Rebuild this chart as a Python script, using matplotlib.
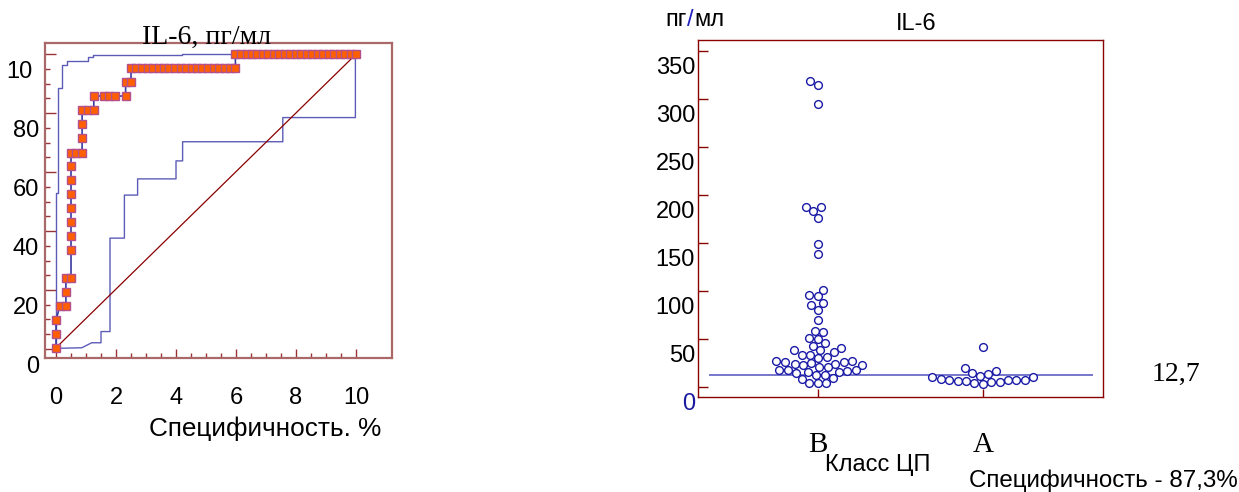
import numpy as np
import matplotlib
matplotlib.use("Agg")
import matplotlib.pyplot as plt
from matplotlib.transforms import ScaledTranslation, blended_transform_factory

# ROC curve for IL-6 (specificity axis, sensitivity axis)
roc_x = [0, 0, 0, 0.13, 0.33, 0.33, 0.33, 0.5, 0.5, 0.5, 0.5, 0.5, 0.5, 0.5, 0.5, 0.5,
         0.67, 0.87, 0.87, 0.87, 0.87, 1.07, 1.26, 1.26, 1.6, 1.77, 1.96, 2.32, 2.32, 2.5,
         2.50, 2.68, 2.87, 3.05, 3.23, 3.42, 3.60, 3.78, 3.97, 4.15, 4.33, 4.52, 4.70, 4.88,
         5.07, 5.25, 5.43, 5.62, 5.80, 5.98,
         5.98, 6.16, 6.35, 6.53, 6.71, 6.89, 7.08, 7.26, 7.44, 7.63, 7.81, 7.99, 8.17, 8.36,
         8.54, 8.72, 8.91, 9.09, 9.27, 9.45, 9.64, 9.82, 10.0]
roc_y = [5.4, 10.2, 14.8, 19.6, 19.6, 24.4, 29.2, 29.2, 38.5, 43.3, 48.1, 52.7, 57.6, 62.3, 67.1, 71.6,
         71.6, 71.6, 76.5, 81.2, 86.0, 86.0, 86.0, 90.8, 90.8, 90.8, 90.8, 90.8, 95.6, 95.6,
         100.2, 100.2, 100.2, 100.2, 100.2, 100.2, 100.2, 100.2, 100.2, 100.2, 100.2, 100.2, 100.2, 100.2,
         100.2, 100.2, 100.2, 100.2, 100.2, 100.2,
         105, 105, 105, 105, 105, 105, 105, 105, 105, 105, 105, 105, 105, 105,
         105, 105, 105, 105, 105, 105, 105, 105, 105]

# confidence bounds
upper_x = [0, 0, 0.05, 0.05, 0.21, 0.21, 0.38, 0.38, 1.08, 1.08, 1.22, 1.22, 4.2, 4.2, 10]
upper_y = [5.2, 57.8, 57.8, 93.4, 93.4, 101.3, 101.3, 102.8, 102.8, 104.2, 104.2, 104.8, 104.8, 105.1, 105.1]
lower_x = [0, 0.86, 1.19, 1.5, 1.5, 1.8, 1.8, 2.28, 2.28, 2.72, 2.72, 4.0, 4.0, 4.22, 4.22,
           7.56, 7.56, 9.98, 9.98]
lower_y = [5.2, 5.4, 7.1, 7.1, 10.9, 10.9, 42.6, 42.6, 57.2, 57.2, 62.7, 62.7, 68.8, 68.8, 75.3,
           75.3, 83.5, 83.5, 105]
diag_x = [0, 10]
diag_y = [5.4, 105]

# IL-6, pg/ml by class
class_b = [318.75, 315, 294.5, 187.8, 187.2, 183.7, 176, 148.6, 138.5, 100.7, 95.5, 94.1,
           86.8, 84.7, 79.5, 69.4, 58.3, 57, 51, 50, 45.5, 42.7, 40.3, 38.5, 37.8, 35.7,
           33.6, 33.6, 30.9, 29.9, 27.1, 26.4, 25.3, 25.3, 24.6, 24, 23.5, 22.2, 22.2, 20.8,
           20.8, 17.7, 17, 17, 16.5, 15.7, 15, 14.4, 12.5, 12.5, 9, 8.4, 3.8, 3.8, 3.8]
class_a = [41, 19.4, 16.7, 14.5, 13.2, 11, 10.4, 9.8, 8.5, 7.5, 7.3, 6.9, 6.6, 6, 5.5,
           5, 4.5, 3.8, 2.8]
cutoff = 12.7

SANS = "Liberation Sans"
SERIF = "Liberation Serif"

fig = plt.figure(figsize=(12.39, 4.92), dpi=100)
W, H = 1239, 492


def px_offset(dx, dy):
    return ScaledTranslation(dx / 100, dy / 100, fig.dpi_scale_trans)


def swarm(ax, values, center, d_px):
    vals = np.asarray(values, float)
    order = np.argsort(vals)
    ys = ax.transData.transform(np.column_stack([np.zeros(len(vals)), vals]))[:, 1]
    p0 = ax.transData.transform([(0, 0), (1, 0)])
    px_per_unit = p0[1, 0] - p0[0, 0]
    placed = []
    xs = np.zeros(len(vals))
    for i in order:
        y = ys[i]
        cands = [0.0]
        for cx, cy in placed:
            dy = y - cy
            if abs(dy) < d_px:
                dx = np.sqrt(d_px ** 2 - dy ** 2)
                cands += [cx - dx, cx + dx]
        cands.sort(key=lambda c: (abs(c), c))
        for c in cands:
            if all((c - cx) ** 2 + (y - cy) ** 2 >= d_px ** 2 - 1e-6 for cx, cy in placed):
                break
        placed.append((c, y))
        xs[i] = center + c / px_per_unit
    return xs


# ---- left: ROC curve ----
ax1 = fig.add_axes([45 / W, 1 - 358 / H, 347 / W, 315 / H])
ax1.set_xlim(-0.367, 11.2)
ax1.set_ylim(1.93, 108.8)

ax1.plot(upper_x, upper_y, color="#5c5cb8", lw=1.0)
ax1.plot(lower_x, lower_y, color="#5c5cb8", lw=1.0)
ax1.plot(diag_x, diag_y, color="#8b0000", lw=0.9)
ax1.plot(roc_x, roc_y, color="#3a3aa0", lw=1.2, marker="s", markersize=5.8,
         markerfacecolor="#ff5f00", markeredgecolor="#b4508c", markeredgewidth=1.0, zorder=3)

for s in ax1.spines.values():
    s.set_color("#aa6868")
    s.set_linewidth(1.6)

ax1.set_xticks(range(0, 11, 2))
ax1.set_xticks(np.arange(0, 10.01, 0.5), minor=True)
ax1.set_yticks(range(5, 106, 20))
ax1.set_yticks(range(5, 106, 5), minor=True)
ax1.tick_params(axis="both", which="both", direction="in", color="#9a3434", width=1)
ax1.tick_params(axis="x", which="major", length=6.5, pad=21, labelsize=17, labelfontfamily=SANS)
ax1.tick_params(axis="x", which="minor", length=3.3)
ax1.tick_params(axis="y", which="major", length=8, labelleft=False)
ax1.tick_params(axis="y", which="minor", length=3.6)

ytr = blended_transform_factory(ax1.transAxes, ax1.transData)
for v, lab in zip([0, 20, 40, 60, 80, 100], ["0", "20", "40", "60", "80", "10"]):
    shift = -12 if lab == "10" else -6
    ax1.text(0, v, lab, transform=ytr + px_offset(shift, -3), ha="right", va="center",
             fontsize=17, family=SANS)

fig.text(207 / W, 1 - 37 / H, "IL-6, пг/мл", ha="center", va="center",
         fontsize=20, family=SERIF)
fig.text(265 / W, 1 - 429 / H, "Специфичность. %", ha="center", va="center",
         fontsize=18.8, family=SANS)

# ---- right: IL-6 by class ----
ax2 = fig.add_axes([698 / W, 1 - 397 / H, 405 / W, 357 / H])
ax2.set_xlim(-0.725, 1.728)
ax2.set_ylim(-10.7, 361.5)

for s in ax2.spines.values():
    s.set_color("#8b0000")
    s.set_linewidth(1.0)

ax2.hlines(cutoff, -0.66, 1.665, color="#6060c4", lw=1.2, zorder=1)

for center, vals in [(0, class_b), (1, class_a)]:
    xs = swarm(ax2, vals, center, 8.5)
    ax2.plot(xs, vals, linestyle="none", marker="o", markersize=5.6,
             markerfacecolor="white", markeredgecolor="#1a1aa6", markeredgewidth=1.0, zorder=3)

ax2.set_xticks([0, 1])
ax2.set_xticklabels(["B", "A"])
ax2.set_yticks(range(0, 351, 50))
ax2.tick_params(axis="both", direction="in", color="#8b0000", width=1)
ax2.tick_params(axis="y", length=7.2, labelleft=False)
ax2.tick_params(axis="x", length=6, pad=25, labelsize=21, labelfontfamily=SERIF)

ytr2 = blended_transform_factory(ax2.transAxes, ax2.transData)
for v in range(0, 351, 50):
    ax2.text(0, v, str(v), transform=ytr2 + px_offset(-3, -17), ha="right", va="center",
             fontsize=17, family=SANS, color="#1a1aa0" if v == 0 else "black")

# axis unit, with blue slash
fig.text(687 / W, 1 - 20 / H, "пг", ha="right", va="center", fontsize=17, family=SANS)
fig.text(690.5 / W, 1 - 20 / H, "/", ha="center", va="center", fontsize=17, family=SANS,
         color="#2020c0")
fig.text(694 / W, 1 - 20 / H, "мл", ha="left", va="center", fontsize=17, family=SANS)

fig.text(916.5 / W, 1 - 24 / H, "IL-6", ha="center", va="center", fontsize=17, family=SANS)
fig.text(877.5 / W, 1 - 465 / H, "Класс ЦП", ha="center", va="center", fontsize=17, family=SANS)
fig.text(1103 / W, 1 - 481 / H, "Специфичность - 87,3%", ha="center", va="center",
         fontsize=17.4, family=SANS)
fig.text(1176 / W, 1 - 374 / H, "12,7", ha="center", va="center", fontsize=20, family=SERIF)

fig.savefig("out.png", dpi=100)
